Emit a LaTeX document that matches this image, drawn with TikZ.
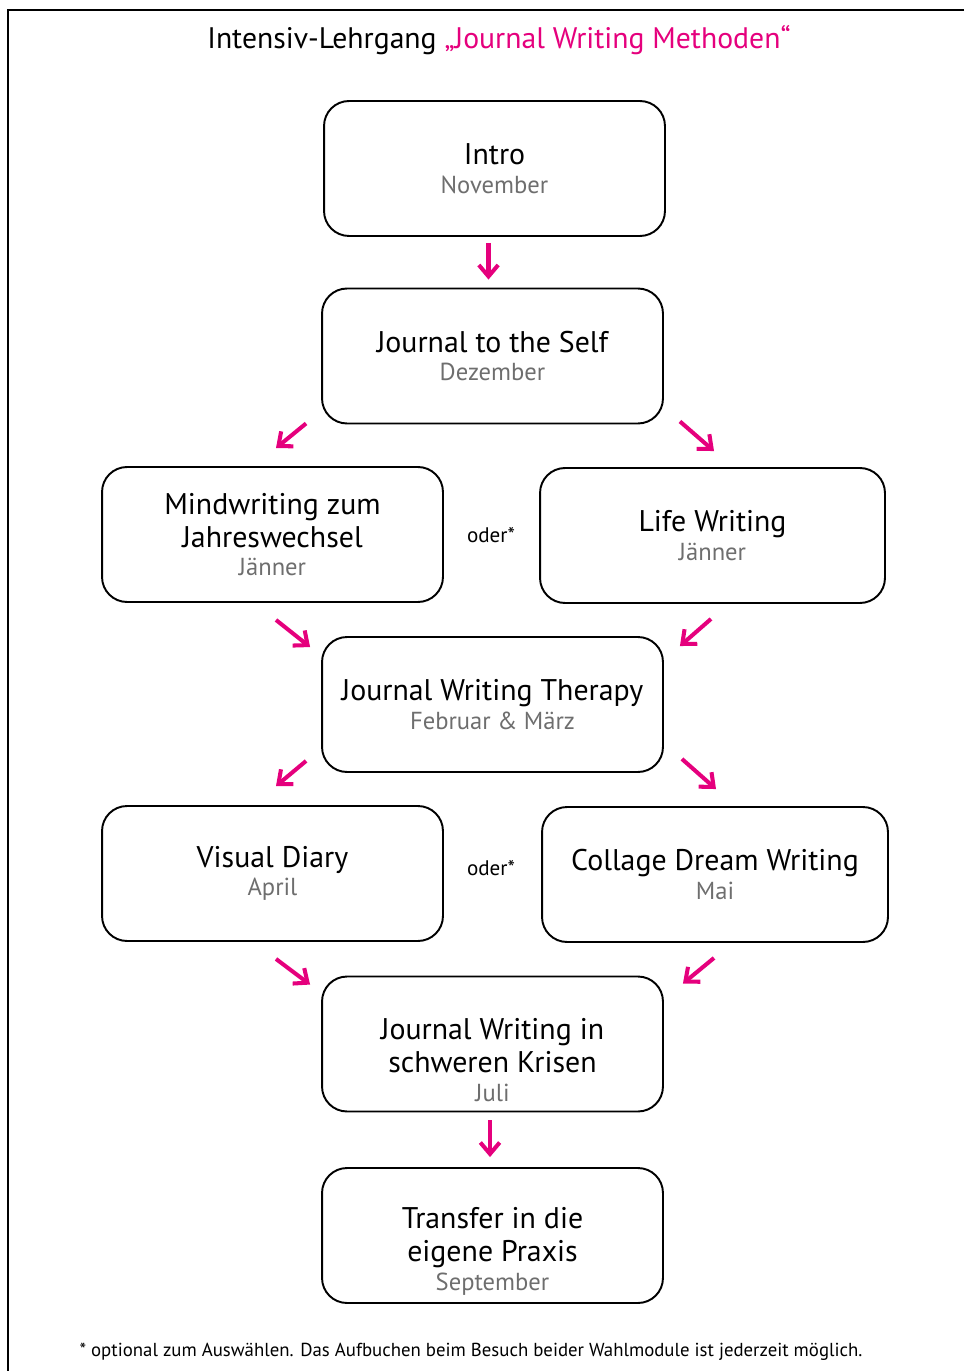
\documentclass[tikz,border=0pt]{standalone}
\usepackage{fontspec}
\setmainfont{PT Sans}
\usepackage{color}
\usetikzlibrary{arrows.meta,calc}

\definecolor{pink}{HTML}{E5007D}
\definecolor{mgray}{HTML}{6E6E6E}
\newcommand{\monat}[1]{\\[-2.8pt]{\color{mgray}\fontsize{14}{16}\selectfont #1}}
\newcommand{\tiefer}{\rule{0pt}{30pt}}

\tikzset{
  box/.style={draw, rounded corners=0.5cm, line width=1.1pt,
    minimum width=6.82cm, minimum height=2.7cm, align=center,
    font=\fontsize{17}{19}\selectfont},
  oder/.style={font=\fontsize{12}{14}\selectfont},
  arr/.style={draw=pink, line width=2.3pt, -{Straight Barb[length=6.5pt,width=11pt]}}
}

\begin{document}
\begin{tikzpicture}[x=0.02cm, y=-0.02cm]
\useasboundingbox (0,0) rectangle (964,1371);
\draw[line width=0.9pt] (964,10) -- (8,10) -- (8,1371);
\draw (499,40) node[font=\fontsize{16.9}{19}\selectfont](title)
    {Intensiv-Lehrgang \textcolor{pink}{„Journal Writing Methoden“}};
\draw (494.5,168.5) node[box](intro){Intro\monat{November}}
    (492.5,356) node[box](self){Journal to the Self\monat{Dezember}}
    (272.5,534.5) node[box](mind){Mindwriting zum\\Jahreswechsel\monat{Jänner}}
    (712.5,535.5) node[box, minimum width=6.9cm](life){Life Writing\monat{Jänner}}
    (492.5,704.5) node[box](ther){Journal Writing Therapy\monat{Februar \& März}}
    (272.5,873.5) node[box](vis){Visual Diary\monat{April}}
    (715,874.5) node[box, minimum width=6.92cm](coll){Collage Dream Writing\monat{Mai}}
    (492.5,1044) node[box](kris){\tiefer Journal Writing in\\schweren Krisen\monat{Juli}}
    (492.5,1235.5) node[box](trans){\tiefer Transfer in die\\eigene Praxis\monat{September}};
\draw (491,535) node[oder](oder1){oder*}
    (491,868) node[oder](oder2){oder*};
\draw (471,1352) node[font=\fontsize{10.7}{13}\selectfont](note)
    {* optional zum Auswählen. Das Aufbuchen beim Besuch beider Wahlmodule ist jederzeit möglich.};
% pfeile
\draw[arr] ($(intro.south)+(-6,6)$) -- ($(self.north)+(-4,-8)$);
\draw[arr] ($(self.south west)+(-15,-1)$) -- ($(mind.north)+(3.5,-18)$);
\draw[arr] ($(self.south east)+(16,-3)$) -- ($(life.north)+(1.5,-16)$);
\draw[arr] ($(mind.south)+(3.5,17)$) -- ($(ther.north west)+(-11,11)$);
\draw[arr] ($(life.south)+(-1.5,15)$) -- ($(ther.north east)+(16,10)$);
\draw[arr] ($(ther.south west)+(-15,-12)$) -- ($(vis.north)+(3.5,-19)$);
\draw[arr] ($(ther.south east)+(18,-14)$) -- ($(coll.north)+(1,-17)$);
\draw[arr] ($(vis.south)+(3.5,17)$) -- ($(kris.north west)+(-11,9)$);
\draw[arr] ($(coll.south)+(-1,15)$) -- ($(kris.north east)+(19,8)$);
\draw[arr] ($(kris.south)+(-2.5,8)$) -- ($(trans.north)+(-2.5,-10)$);
\end{tikzpicture}
\end{document}
